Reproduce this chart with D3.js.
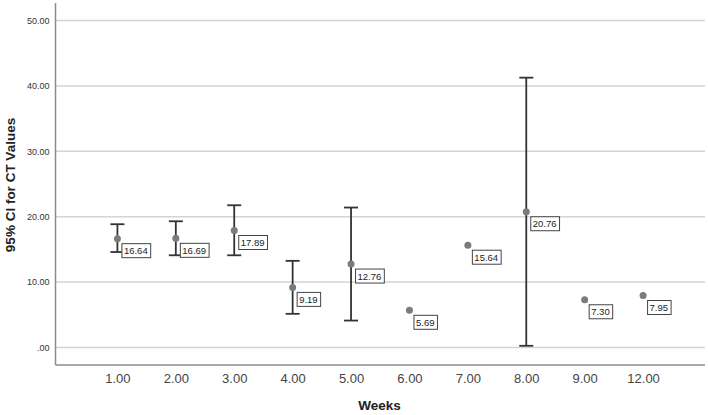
<!DOCTYPE html>
<html>
<head>
<meta charset="utf-8">
<script src="https://cdn.jsdelivr.net/npm/d3@7"></script>
<style>
html,body{margin:0;padding:0;background:#fff;}
svg{display:block;}
</style>
</head>
<body>
<svg id="chart" width="708" height="415"></svg>
<script>
const weeks = ["1.00","2.00","3.00","4.00","5.00","6.00","7.00","8.00","9.00","12.00"];
const means = [16.64,16.69,17.89,9.19,12.76,5.69,15.64,20.76,7.30,7.95];
const lower = [14.6,14.1,14.1,5.15,4.12,null,null,0.26,null,null];
const upper = [18.85,19.3,21.75,13.25,21.4,null,null,41.26,null,null];
const yTicks = [0,10,20,30,40,50];

(function(){
const svg = d3.select("#chart");
const mL = 55.5, mR = 705, mT = 3, mB = 365;
const x = d3.scalePoint().domain(weeks).range([mL, mR]).padding(1.06);
const y = d3.scaleLinear().domain([0,50]).range([347.5, 20.5]);

// gridlines
svg.append("g").selectAll("line").data(yTicks).join("line")
  .attr("x1", mL).attr("x2", mR)
  .attr("y1", d=>y(d)).attr("y2", d=>y(d))
  .attr("stroke","#d4d4d4").attr("stroke-width",1.5);

// y axis
const yAxis = svg.append("g").attr("transform",`translate(${mL},0)`)
  .call(d3.axisLeft(y).tickValues(yTicks).tickSize(0).tickPadding(6)
    .tickFormat(d => d===0 ? ".00" : d3.format(".2f")(d)));
yAxis.select(".domain").remove();
yAxis.selectAll("text").attr("font-family","Arial, 'Liberation Sans', sans-serif")
  .attr("font-size","9px").attr("fill","#333");

// x axis
const xAxis = svg.append("g").attr("transform",`translate(0,${mB})`)
  .call(d3.axisBottom(x).tickSize(0).tickPadding(9));
xAxis.select(".domain").remove();
xAxis.selectAll("text").attr("font-family","Arial, 'Liberation Sans', sans-serif")
  .attr("font-size","13px").attr("fill","#444");

// axis lines
svg.append("line").attr("x1",mL).attr("x2",mL).attr("y1",mT).attr("y2",mB)
  .attr("stroke","#8c8c8c").attr("stroke-width",1.5);
svg.append("line").attr("x1",mL).attr("x2",mR).attr("y1",mB).attr("y2",mB)
  .attr("stroke","#8c8c8c").attr("stroke-width",1.5);

// data
const data = weeks.map((w,i)=>({w, m:means[i], lo:lower[i], hi:upper[i]}));

// error bars
const eb = svg.append("g").selectAll("g").data(data.filter(d=>d.lo!==null)).join("g");
eb.append("line").attr("x1",d=>x(d.w)).attr("x2",d=>x(d.w))
  .attr("y1",d=>y(d.lo)).attr("y2",d=>y(d.hi))
  .attr("stroke","#333").attr("stroke-width",1.8);
eb.append("line").attr("x1",d=>x(d.w)-7).attr("x2",d=>x(d.w)+7)
  .attr("y1",d=>y(d.hi)).attr("y2",d=>y(d.hi))
  .attr("stroke","#333").attr("stroke-width",1.8);
eb.append("line").attr("x1",d=>x(d.w)-7).attr("x2",d=>x(d.w)+7)
  .attr("y1",d=>y(d.lo)).attr("y2",d=>y(d.lo))
  .attr("stroke","#333").attr("stroke-width",1.8);

// points
svg.append("g").selectAll("circle").data(data).join("circle")
  .attr("cx",d=>x(d.w)).attr("cy",d=>y(d.m)).attr("r",3.5)
  .attr("fill","#7b7b7b");

// labels
const lab = svg.append("g").selectAll("g").data(data).join("g")
  .attr("transform",d=>`translate(${x(d.w)+4},${y(d.m)+4.5})`);
lab.append("text").attr("x",2.5).attr("y",11)
  .attr("font-family","Arial, 'Liberation Sans', sans-serif")
  .attr("font-size","9.5px").attr("fill","#222")
  .text(d=>d3.format(".2f")(d.m));
lab.each(function(){
  const g = d3.select(this);
  const bb = g.select("text").node().getBBox();
  g.insert("rect","text").attr("x",0.5).attr("y",0.5)
    .attr("width",bb.width+5).attr("height",14)
    .attr("fill","#fff").attr("stroke","#444").attr("stroke-width",1);
});

// axis titles
svg.append("text").attr("x",379.5).attr("y",410).attr("text-anchor","middle")
  .attr("font-family","Arial, 'Liberation Sans', sans-serif").attr("font-weight","bold")
  .attr("font-size","13.5px").attr("fill","#222").text("Weeks");
svg.append("text").attr("transform","translate(15,185) rotate(-90)").attr("text-anchor","middle")
  .attr("font-family","Arial, 'Liberation Sans', sans-serif").attr("font-weight","bold")
  .attr("font-size","13.5px").attr("fill","#222").text("95% CI for CT Values");
})();
</script>
</body>
</html>
